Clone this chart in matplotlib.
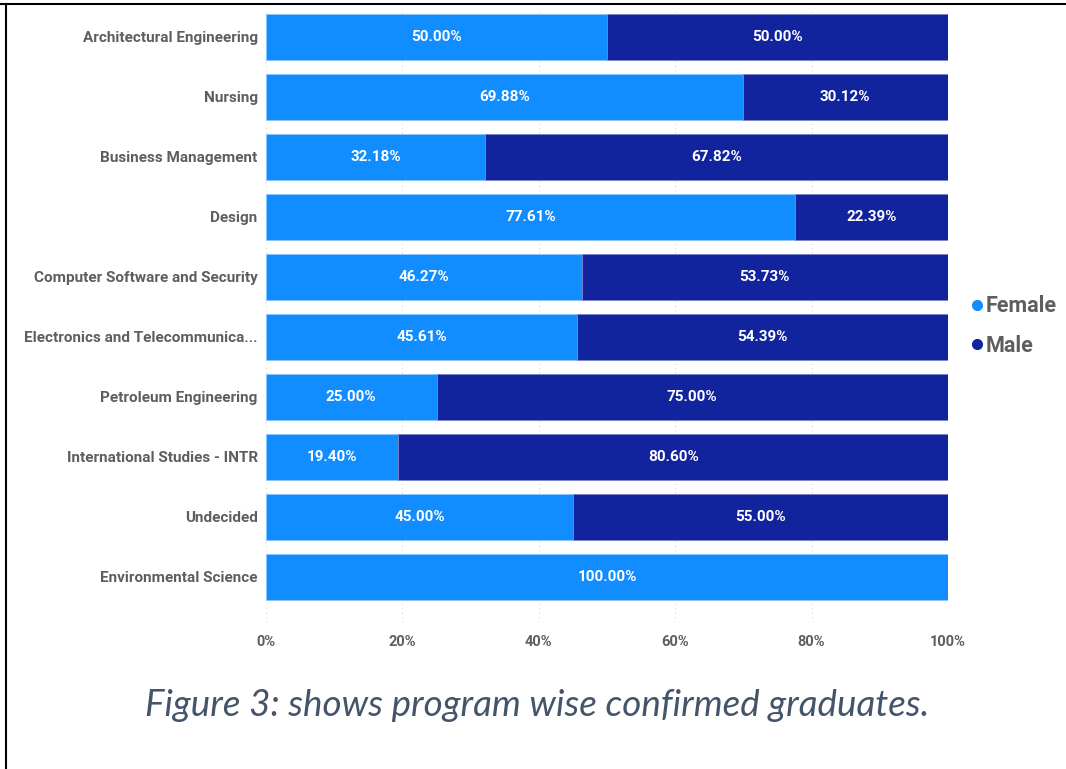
import matplotlib.pyplot as plt
from matplotlib.lines import Line2D
import numpy as np

# Dati
programmi = ['Architectural Engineering', 'Nursing', 'Business Management', 'Design',
             'Computer Software and Security', 'Electronics and Telecommunica...',
             'Petroleum Engineering', 'International Studies - INTR', 'Undecided',
             'Environmental Science']
female = [50.00, 69.88, 32.18, 77.61, 46.27, 45.61, 25.00, 19.40, 45.00, 100.00]
male = [50.00, 30.12, 67.82, 22.39, 53.73, 54.39, 75.00, 80.60, 55.00, 0.00]
x_ticks = [0, 20, 40, 60, 80, 100]

col_f = '#118DFF'
col_m = '#12239E'
col_txt = '#605E5C'
font = ['Roboto', 'DejaVu Sans']

fig = plt.figure(figsize=(10.66, 7.69), dpi=100)
ax = fig.add_axes([266 / 1066, 1 - 622 / 769, (948 - 266) / 1066, (622 - 10) / 769])

y = np.arange(len(programmi))
ax.barh(y, female, height=0.767, color=col_f, edgecolor='#8CC4FF', linewidth=0.6, zorder=2)
ax.barh(y, male, left=female, height=0.767, color=col_m, edgecolor='#7A86C8', linewidth=0.6, zorder=2)

# Etichette dentro le barre
for i in range(len(programmi)):
    if female[i] > 0:
        ax.text(female[i] / 2, y[i], f'{female[i]:.2f}%', ha='center', va='center',
                color='white', fontsize=11, fontweight='bold', family=font, zorder=3)
    if male[i] > 0:
        ax.text(female[i] + male[i] / 2, y[i], f'{male[i]:.2f}%', ha='center', va='center',
                color='white', fontsize=11, fontweight='bold', family=font, zorder=3)

ax.set_xlim(0, 100)
ax.set_ylim(9.75, -0.45)
ax.set_yticks(y)
ax.set_yticklabels(programmi, family=font, fontsize=11, fontweight='bold', color=col_txt)
ax.set_xticks(x_ticks)
ax.set_xticklabels([f'{t}%' for t in x_ticks], family=font, fontsize=10.5, fontweight='bold', color=col_txt)
ax.tick_params(length=0, pad=6)
ax.tick_params(axis='x', pad=9)
ax.grid(axis='x', color='#D9D9D9', linestyle=(0, (1, 3)), linewidth=0.8, zorder=0)
for s in ax.spines.values():
    s.set_visible(False)

# Legenda
handles = [Line2D([], [], marker='o', linestyle='', color=col_f, markersize=7),
           Line2D([], [], marker='o', linestyle='', color=col_m, markersize=7)]
fig.legend(handles, ['Female', 'Male'], loc='center left', bbox_to_anchor=(949 / 1066, 1 - 326 / 769),
           frameon=False, handletextpad=0.0, labelspacing=0.8, handlelength=0.8,
           prop={'family': font, 'size': 15.5, 'weight': 'bold'}, labelcolor=col_txt)

# Didascalia
fig.text(537 / 1066, 1 - 706 / 769, 'Figure 3: shows program wise confirmed graduates.',
         ha='center', va='center', fontsize=26.5, style='italic', color='#44546A',
         family=['Lato', 'DejaVu Sans'])

# Bordi del documento
fig.add_artist(Line2D([0, 1065 / 1066], [1 - 3.5 / 769, 1 - 3.5 / 769], color='black', linewidth=1.5))
fig.add_artist(Line2D([6 / 1066, 6 / 1066], [0, 1 - 3.5 / 769], color='black', linewidth=1.5))

plt.savefig('out.png', dpi=100)
plt.close()
